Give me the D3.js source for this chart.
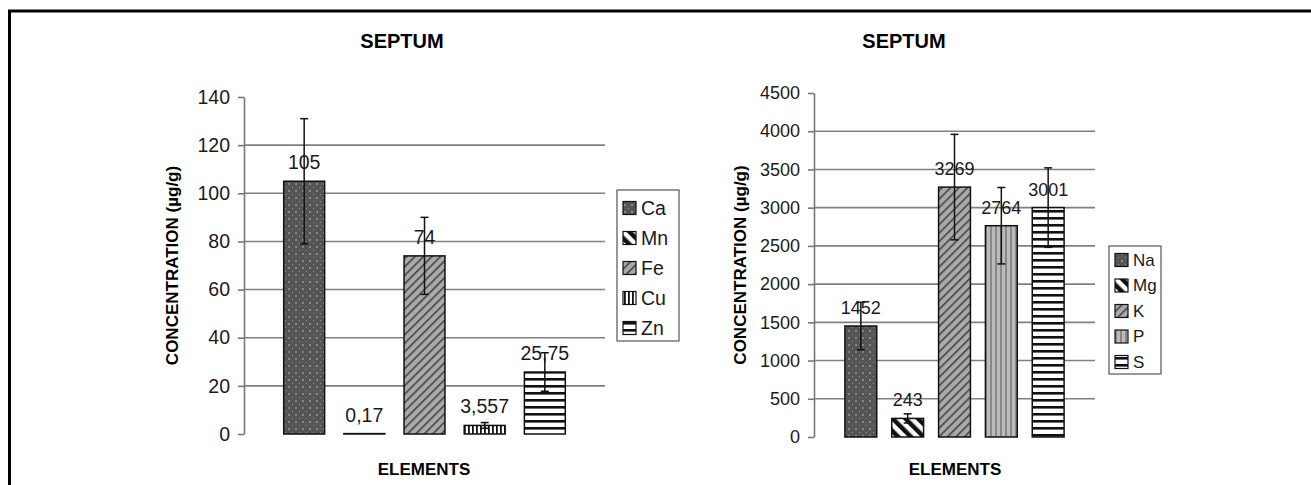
<!DOCTYPE html>
<html>
<head>
<meta charset="utf-8">
<script src="https://cdn.jsdelivr.net/npm/d3@7/dist/d3.min.js"></script>
<style>
  html, body { margin: 0; padding: 0; background: #fff; }
  svg { display: block; font-family: "Liberation Sans", Arial, sans-serif; }
</style>
</head>
<body>
<svg id="fig" width="1311" height="485"></svg>
<script>
// Trace elements (left panel)
const traceElements = ["Ca", "Mn", "Fe", "Cu", "Zn"];
const traceMeans = [105, 0.17, 74, 3.557, 25.75];
const traceErrors = [26, 0, 16, 1.2, 8];
const traceTicks = [0, 20, 40, 60, 80, 100, 120, 140];

// Major elements (right panel)
const majorElements = ["Na", "Mg", "K", "P", "S"];
const majorMeans = [1452, 243, 3269, 2764, 3001];
const majorErrors = [310, 60, 690, 500, 520];
const majorTicks = [0, 500, 1000, 1500, 2000, 2500, 3000, 3500, 4000, 4500];

const panelTitle = "SEPTUM";
const yTitle = "CONCENTRATION (\u00b5g/g)";
const xTitle = "ELEMENTS";

// fill pattern for each bar position (same order in both panels)
const fillPatterns = [
  ["dots", "diagBold", "diagFine", "vertBlack", "horiz"],
  ["dots", "diagBold", "diagFine", "vertGray", "horiz"]
];

const svg = d3.select("#fig");
const defs = svg.append("defs");

function pattern(id, w, h, transform, draw) {
  const p = defs.append("pattern")
    .attr("id", id)
    .attr("patternUnits", "userSpaceOnUse")
    .attr("width", w).attr("height", h);
  if (transform) p.attr("patternTransform", transform);
  draw(p);
}
pattern("dots", 7, 7, null, p => {
  p.append("rect").attr("width", 7).attr("height", 7).attr("fill", "#555");
  p.append("circle").attr("cx", 2).attr("cy", 2).attr("r", 0.8).attr("fill", "#c8c8c8");
  p.append("circle").attr("cx", 5.5).attr("cy", 5.5).attr("r", 0.6).attr("fill", "#999");
});
pattern("diagBold", 9, 9, "rotate(-45)", p => {
  p.append("rect").attr("width", 9).attr("height", 9).attr("fill", "#fff");
  p.append("rect").attr("width", 4.5).attr("height", 9).attr("fill", "#111");
});
pattern("diagFine", 6, 6, "rotate(45)", p => {
  p.append("rect").attr("width", 6).attr("height", 6).attr("fill", "#aaa");
  p.append("rect").attr("width", 1.6).attr("height", 6).attr("fill", "#444");
});
pattern("vertBlack", 4, 4, null, p => {
  p.append("rect").attr("width", 4).attr("height", 4).attr("fill", "#fff");
  p.append("rect").attr("width", 1.8).attr("height", 4).attr("fill", "#111");
});
pattern("vertGray", 5, 5, null, p => {
  p.append("rect").attr("width", 5).attr("height", 5).attr("fill", "#bbb");
  p.append("rect").attr("width", 2).attr("height", 5).attr("fill", "#888");
});
pattern("horiz", 7, 7, null, p => {
  p.append("rect").attr("width", 7).attr("height", 7).attr("fill", "#fff");
  p.append("rect").attr("width", 7).attr("height", 2.6).attr("fill", "#111");
});

// outer frame (left and top edges)
svg.append("path")
  .attr("d", "M9.5,485 V11 H1311")
  .attr("fill", "none").attr("stroke", "#000").attr("stroke-width", 3);

const decimalComma = v => String(v).replace(".", ",");

function drawPanel(cfg) {
  const g = svg.append("g");
  const y = d3.scaleLinear().domain(cfg.domain).range([cfg.bottom, cfg.top]);
  const x = d3.scaleBand().domain(cfg.names)
    .range([cfg.left, cfg.right]).paddingInner(0.32).paddingOuter(0.66);

  // gridlines (all ticks except the baseline and the top)
  g.append("g").selectAll("line")
    .data(cfg.ticks.slice(1, -1))
    .join("line")
    .attr("x1", cfg.left).attr("x2", cfg.right)
    .attr("y1", d => y(d)).attr("y2", d => y(d))
    .attr("stroke", "#808080").attr("stroke-width", 1.6);

  // value axis
  const axis = g.append("g")
    .attr("transform", `translate(${cfg.left},0)`)
    .call(d3.axisLeft(y).tickValues(cfg.ticks).tickFormat(d3.format("d"))
      .tickSize(6).tickPadding(8).tickSizeOuter(0));
  axis.select(".domain").attr("stroke", "#777").attr("stroke-width", 1.6);
  axis.selectAll(".tick line").attr("stroke", "#777").attr("stroke-width", 1.6);
  axis.selectAll(".tick text")
    .attr("font-size", cfg.tickFont).attr("fill", "#1a1a1a")
    .attr("font-family", "Liberation Sans, Arial, sans-serif");

  const rows = cfg.names.map((n, i) => ({ name: n, v: cfg.values[i], e: cfg.errors[i], fill: cfg.fills[i] }));

  // bars
  g.append("g").selectAll("rect")
    .data(rows)
    .join("rect")
    .attr("x", d => x(d.name))
    .attr("width", x.bandwidth())
    .attr("y", d => y(d.v))
    .attr("height", d => y(0) - y(d.v))
    .attr("fill", d => `url(#${d.fill})`)
    .attr("stroke", "#111").attr("stroke-width", 1.5);

  // error bars
  const eb = g.append("g").attr("stroke", "#111").attr("stroke-width", 1.5);
  rows.filter(d => d.e > 0).forEach(d => {
    const cx = x(d.name) + x.bandwidth() / 2;
    eb.append("line").attr("x1", cx).attr("x2", cx).attr("y1", y(d.v - d.e)).attr("y2", y(d.v + d.e));
    eb.append("line").attr("x1", cx - 4).attr("x2", cx + 4).attr("y1", y(d.v + d.e)).attr("y2", y(d.v + d.e));
    eb.append("line").attr("x1", cx - 4).attr("x2", cx + 4).attr("y1", y(d.v - d.e)).attr("y2", y(d.v - d.e));
  });

  // value labels
  g.append("g").selectAll("text")
    .data(rows)
    .join("text")
    .attr("x", d => x(d.name) + x.bandwidth() / 2)
    .attr("y", d => y(d.v) - 12)
    .attr("text-anchor", "middle")
    .attr("font-size", cfg.labelFont).attr("fill", "#1a1a1a")
    .text(d => decimalComma(d.v));

  // titles
  svg.append("text")
    .attr("x", cfg.titleX).attr("y", 48)
    .attr("text-anchor", "middle").attr("font-weight", "bold").attr("font-size", 20)
    .text(panelTitle);
  svg.append("text")
    .attr("transform", `translate(${cfg.yTitleX},${(cfg.top + cfg.bottom) / 2}) rotate(-90)`)
    .attr("text-anchor", "middle").attr("dominant-baseline", "central")
    .attr("font-weight", "bold").attr("font-size", 17)
    .text(yTitle);
  svg.append("text")
    .attr("x", cfg.xTitleX).attr("y", 475)
    .attr("text-anchor", "middle").attr("font-weight", "bold").attr("font-size", 17)
    .text(xTitle);

  // legend
  const L = cfg.legend;
  const lg = svg.append("g");
  lg.append("rect")
    .attr("x", L.x).attr("y", L.y).attr("width", L.w).attr("height", L.h)
    .attr("fill", "#fff").attr("stroke", "#555").attr("stroke-width", 1.2);
  rows.forEach((d, i) => {
    const cy = L.y + L.first + i * L.step;
    lg.append("rect")
      .attr("x", L.x + 6).attr("y", cy - 6.5).attr("width", 13).attr("height", 13)
      .attr("fill", `url(#${d.fill})`).attr("stroke", "#111").attr("stroke-width", 1.2);
    lg.append("text")
      .attr("x", L.x + 24).attr("y", cy)
      .attr("dominant-baseline", "central")
      .attr("font-size", L.font).attr("fill", "#1a1a1a")
      .text(d.name);
  });
}

drawPanel({
  names: traceElements, values: traceMeans, errors: traceErrors, ticks: traceTicks,
  fills: fillPatterns[0], domain: [0, 140],
  left: 244, right: 605, top: 97, bottom: 434,
  tickFont: 19.5, labelFont: 19.5,
  titleX: 402, yTitleX: 172, xTitleX: 424,
  legend: { x: 617, y: 190, w: 62, h: 151, first: 18, step: 30, font: 19.5 }
});

drawPanel({
  names: majorElements, values: majorMeans, errors: majorErrors, ticks: majorTicks,
  fills: fillPatterns[1], domain: [0, 4500],
  left: 814, right: 1095, top: 93, bottom: 437,
  tickFont: 18, labelFont: 18,
  titleX: 904, yTitleX: 740, xTitleX: 955,
  legend: { x: 1109, y: 246, w: 52, h: 128, first: 14, step: 25.5, font: 17 }
});
</script>
</body>
</html>
